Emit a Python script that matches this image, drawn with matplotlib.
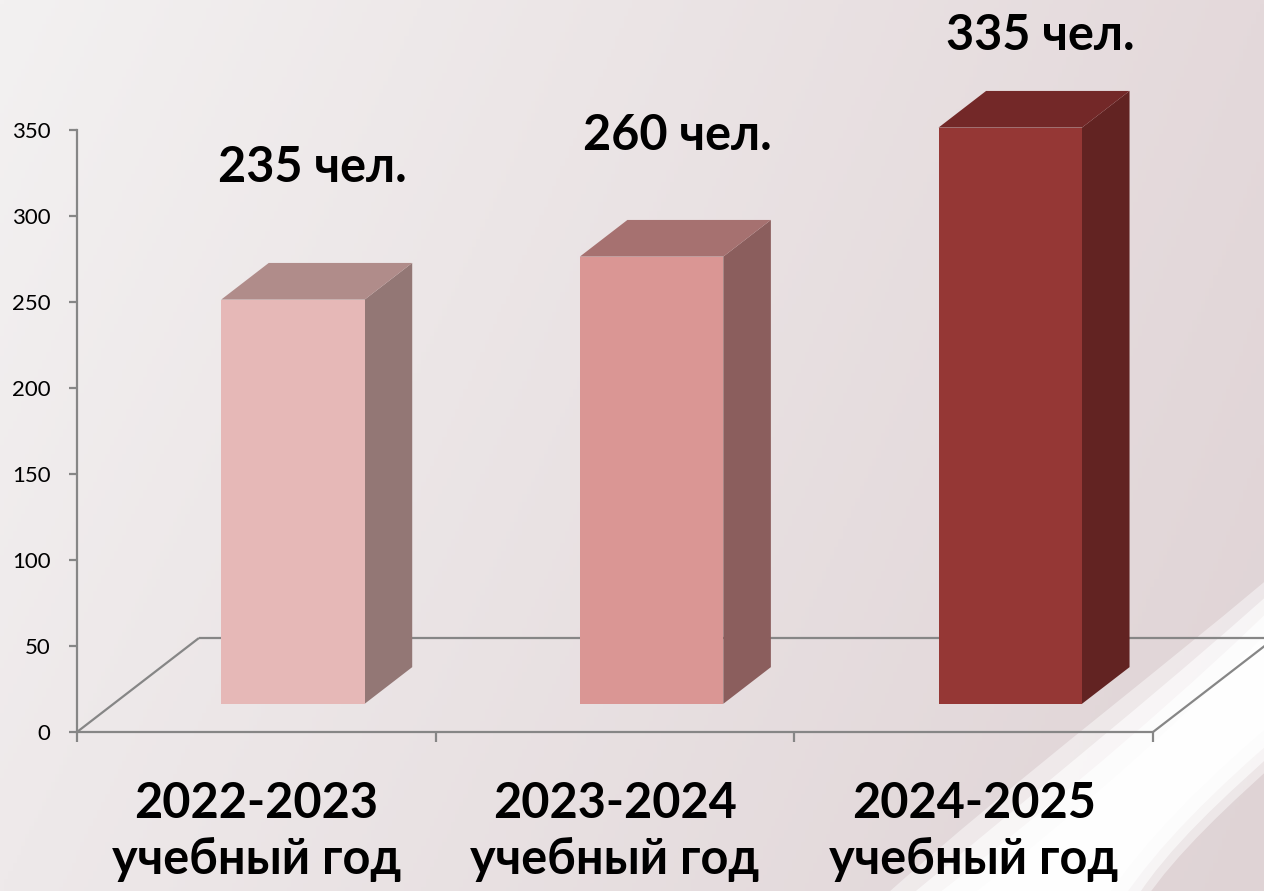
import numpy as np
import matplotlib
matplotlib.use("Agg")
import matplotlib.pyplot as plt
from matplotlib.patches import Polygon, PathPatch
from matplotlib.path import Path
from matplotlib.colors import to_rgb

# ---------------- data ----------------
categories = ["2022-2023\nучебный год", "2023-2024\nучебный год", "2024-2025\nучебный год"]
values = [235, 260, 335]
value_labels = ["235 чел.", "260 чел.", "335 чел."]
yticks = [0, 50, 100, 150, 200, 250, 300, 350]

# ---------------- styles / layout ----------------
front_colors = ["#E6B8B7", "#DA9694", "#953735"]
side_colors = ["#937775", "#8B5E5D", "#622322"]
top_colors = ["#B08C8A", "#A67170", "#732828"]
label_x = [0.655, 1.675, 2.685]
label_y = [328, 347, 405]

FONT = ["Lato", "Open Sans", "DejaVu Sans"]
AXIS_COLOR = "#868686"

W, H = 1264, 891
fig = plt.figure(figsize=(W / 100, H / 100), dpi=100)

# ---------------- background ----------------
bg = fig.add_axes([0, 0, 1, 1])
bg.set_xlim(0, W)
bg.set_ylim(H, 0)
bg.set_axis_off()
xx, yy = np.meshgrid(np.linspace(0, 1, 300), np.linspace(0, 1, 220))
c_tl = np.array(to_rgb("#F3F1F1"))
c_tr = np.array(to_rgb("#E4D9DB"))
c_bl = np.array(to_rgb("#EEE9EA"))
c_br = np.array(to_rgb("#DFD3D5"))
img = (c_tl * ((1 - xx) * (1 - yy))[..., None] + c_tr * (xx * (1 - yy))[..., None]
       + c_bl * ((1 - xx) * yy)[..., None] + c_br * (xx * yy)[..., None])
bg.imshow(img, extent=[0, W, H, 0], aspect="auto", zorder=0)

# white swoosh (decorative background)
def band(upper, lower, alpha):
    verts = [upper[0], upper[1], upper[2], upper[3],
             lower[3], lower[2], lower[1], lower[0], upper[0]]
    codes = [Path.MOVETO, Path.CURVE4, Path.CURVE4, Path.CURVE4,
             Path.LINETO, Path.CURVE4, Path.CURVE4, Path.CURVE4, Path.CLOSEPOLY]
    bg.add_patch(PathPatch(Path(verts, codes), facecolor="white", edgecolor="none",
                           alpha=alpha, zorder=1))

band([(1290, 560), (1180, 655), (1020, 775), (880, 900)],
     [(1290, 750), (1228, 805), (1175, 855), (1145, 900)], 0.45)
band([(1290, 575), (1188, 668), (1040, 788), (905, 900)],
     [(1290, 738), (1222, 798), (1168, 848), (1135, 900)], 0.6)
band([(1290, 590), (1198, 682), (1060, 800), (930, 900)],
     [(1290, 725), (1212, 792), (1158, 846), (1122, 900)], 0.7)
band([(1290, 608), (1208, 698), (1080, 812), (965, 900)],
     [(1290, 708), (1202, 782), (1145, 840), (1105, 900)], 0.7)

# ---------------- chart axes ----------------
ax = fig.add_axes([77 / W, (H - 732) / H, 1076 / W, 602 / H])
ax.set_xlim(0, 3)
ax.set_ylim(0, 350)
ax.patch.set_alpha(0)
for s in ["top", "right", "bottom"]:
    ax.spines[s].set_visible(False)
ax.spines["left"].set_color(AXIS_COLOR)
ax.spines["left"].set_linewidth(1.6)

DX, DY = 0.34, 54.65          # floor depth (category units, value units)
F0, F1 = 0.30, 0.69           # bar depth range as fraction of floor depth
n = len(values)

floor_kw = dict(color=AXIS_COLOR, lw=1.6, clip_on=False, solid_capstyle="butt")
# floor: back line and side diagonals (behind bars)
ax.plot([DX, n + DX], [DY, DY], zorder=2, **floor_kw)
ax.plot([0, DX], [0, DY], zorder=2, **floor_kw)
ax.plot([n, n + DX], [0, DY], zorder=2, **floor_kw)

# bars
ddx, ddy = (F1 - F0) * DX, (F1 - F0) * DY
for i, v in enumerate(values):
    x0 = i + 0.3 + F0 * DX
    x1 = i + 0.7 + F0 * DX
    y0 = F0 * DY
    y1 = y0 + v
    ax.add_patch(Polygon([(x1, y0), (x1 + ddx, y0 + ddy), (x1 + ddx, y1 + ddy), (x1, y1)],
                         closed=True, facecolor=side_colors[i], edgecolor="none",
                         zorder=3, clip_on=False))
    ax.add_patch(Polygon([(x0, y1), (x1, y1), (x1 + ddx, y1 + ddy), (x0 + ddx, y1 + ddy)],
                         closed=True, facecolor=top_colors[i], edgecolor="none",
                         zorder=3, clip_on=False))
    ax.add_patch(Polygon([(x0, y0), (x1, y0), (x1, y1), (x0, y1)],
                         closed=True, facecolor=front_colors[i], edgecolor="none",
                         zorder=4, clip_on=False))
    ax.text(label_x[i], label_y[i], value_labels[i], ha="center", va="center",
            fontsize=35, fontweight="bold", family=FONT, color="black",
            zorder=6, clip_on=False)

# floor front line
ax.plot([0, n], [0, 0], zorder=5, **floor_kw)

# ticks
ax.set_yticks(yticks)
ax.set_yticklabels([str(t) for t in yticks], family=FONT, fontsize=16)
ax.tick_params(axis="y", length=6, width=1.6, color=AXIS_COLOR, pad=13, labelcolor="black")
ax.set_xticks(range(n + 1))
ax.set_xticklabels([""] * (n + 1))
ax.tick_params(axis="x", which="major", length=7, width=1.6, color=AXIS_COLOR, direction="out")
ax.set_xticks([i + 0.5 for i in range(n)], minor=True)
ax.set_xticklabels(categories, minor=True, family=FONT, fontsize=35,
                   fontweight="bold", linespacing=1.3)
ax.tick_params(axis="x", which="minor", length=0, pad=35)

fig.savefig("out.png", dpi=100)
